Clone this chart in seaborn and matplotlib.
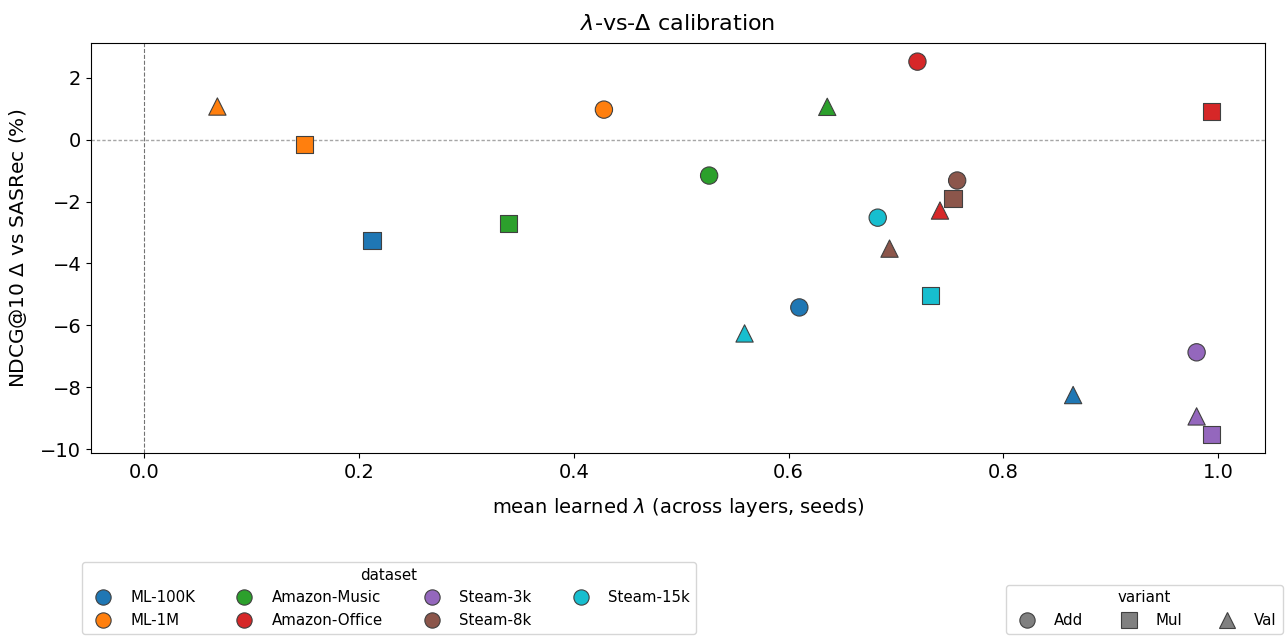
import matplotlib
matplotlib.use("Agg")
import matplotlib.pyplot as plt
from matplotlib.lines import Line2D
import seaborn as sns
import pandas as pd

datasets = ["ML-100K", "ML-100K", "ML-100K",
            "ML-1M", "ML-1M", "ML-1M",
            "Amazon-Music", "Amazon-Music", "Amazon-Music",
            "Amazon-Office", "Amazon-Office", "Amazon-Office",
            "Steam-3k", "Steam-3k", "Steam-3k",
            "Steam-8k", "Steam-8k", "Steam-8k",
            "Steam-15k", "Steam-15k", "Steam-15k"]
variants = ["Add", "Mul", "Val"] * 7
mean_lambda = [0.610, 0.212, 0.865,
               0.428, 0.149, 0.068,
               0.526, 0.339, 0.636,
               0.720, 0.994, 0.741,
               0.980, 0.994, 0.980,
               0.757, 0.753, 0.694,
               0.683, 0.732, 0.559]
delta_ndcg = [-5.42, -3.26, -8.25,
              0.97, -0.15, 1.07,
              -1.16, -2.71, 1.06,
              2.52, 0.90, -2.29,
              -6.87, -9.52, -8.94,
              -1.32, -1.90, -3.52,
              -2.52, -5.03, -6.26]

dataset_order = ["ML-100K", "ML-1M", "Amazon-Music", "Amazon-Office",
                 "Steam-3k", "Steam-8k", "Steam-15k"]
variant_order = ["Add", "Mul", "Val"]

tab = sns.color_palette("tab10")
palette = dict(zip(dataset_order, [tab[0], tab[1], tab[2], tab[3], tab[4], tab[5], tab[9]]))
markers = {"Add": "o", "Mul": "s", "Val": "^"}

df = pd.DataFrame({"dataset": datasets, "variant": variants,
                   "lam": mean_lambda, "delta": delta_ndcg})

fig = plt.figure(figsize=(12.86, 6.37), dpi=100)
ax = fig.add_axes([91/1286, 1 - 453/637, (1265 - 91)/1286, (453 - 43)/637])

ax.axhline(0, color="0.65", lw=1.0, linestyle=(0, (2.4, 1.5)), zorder=1)
ax.axvline(0, color="0.45", lw=0.8, linestyle="--", zorder=1)

sns.scatterplot(data=df, x="lam", y="delta", hue="dataset", style="variant",
                hue_order=dataset_order, style_order=variant_order,
                palette=palette, markers=markers, s=155,
                edgecolor="0.25", linewidth=0.8, legend=False, ax=ax, zorder=3)

ax.set_title(r"$\lambda$-vs-$\Delta$ calibration", fontsize=16, pad=9)
ax.set_xlabel(r"mean learned $\lambda$ (across layers, seeds)", fontsize=14, labelpad=10)
ax.set_ylabel(r"NDCG@10 $\Delta$ vs SASRec (%)", fontsize=14.5, labelpad=8)
ax.tick_params(labelsize=14)
ax.set_xticks([0.0, 0.2, 0.4, 0.6, 0.8, 1.0])
ax.set_yticks([2, 0, -2, -4, -6, -8, -10])

ds_handles = [Line2D([], [], marker="o", linestyle="", markersize=11,
                     markerfacecolor=palette[d], markeredgecolor="0.25",
                     markeredgewidth=0.8, label=d) for d in dataset_order]
var_handles = [Line2D([], [], marker=markers[v], linestyle="", markersize=11,
                      markerfacecolor="0.5", markeredgecolor="0.25",
                      markeredgewidth=0.8, label=v) for v in variant_order]

leg1 = fig.legend(handles=ds_handles, title="dataset", ncol=4,
                  loc="lower left", bbox_to_anchor=(82/1286, 3/637),
                  borderaxespad=0, fontsize=10.8, title_fontsize=10.8,
                  columnspacing=2.3)
leg2 = fig.legend(handles=var_handles, title="variant", ncol=3,
                  loc="lower right", bbox_to_anchor=(1283/1286, 3/637),
                  borderaxespad=0, fontsize=10.8, title_fontsize=10.8,
                  columnspacing=2.0)

fig.savefig("out.png", dpi=100)
